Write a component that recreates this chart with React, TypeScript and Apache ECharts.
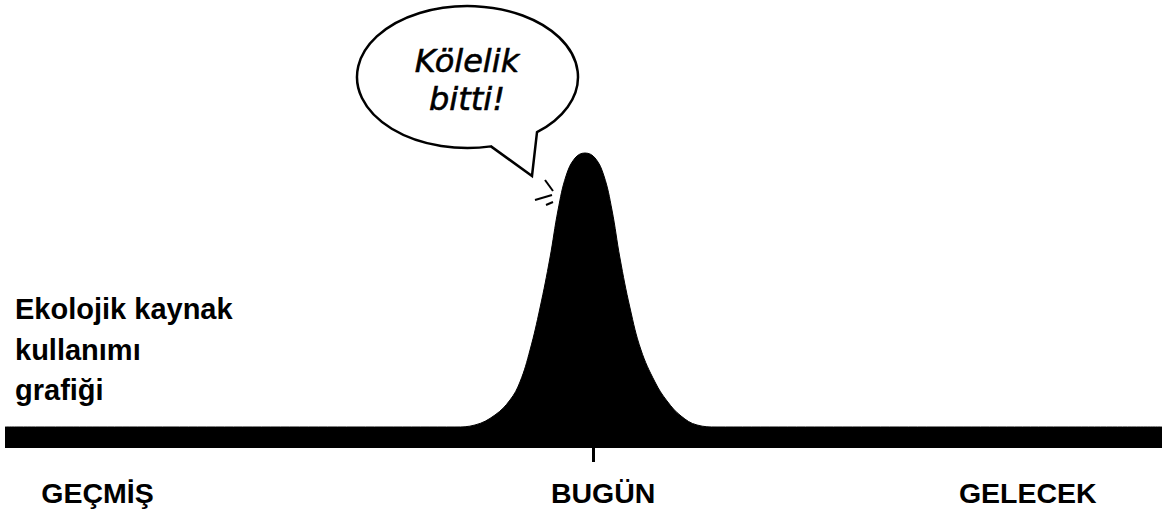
import React, { useEffect, useRef } from "react";
import * as echarts from "echarts";

// Bell curve of ecological resource use (x: time index 0..100, y: usage level)
const curveX = [0, 38.89, 40.62, 42.35, 43.65, 44.51, 45.38, 46.24, 47.1, 47.8, 48.49, 49.27, 50.13, 51.0, 51.77, 52.46, 53.15, 54.02, 54.97, 56.18, 57.22, 58.43, 59.81, 61.54, 100];
const curveY = [21, 21, 23, 33, 48, 66, 98, 140, 190, 238, 272, 290, 295, 290, 272, 238, 190, 140, 98, 66, 47, 32, 23, 21, 21];

const periodLabels = ["GEÇMİŞ", "BUGÜN", "GELECEK"];
const periodPositions = [8, 51.7, 88.4];
const todayTick = [50.82];

const titleText = "Ekolojik kaynak\nkullanımı\ngrafiği";
const bubbleText = "Kölelik\nbitti!";

const BUBBLE_PATH = "M 491 146.38 A 110.5 71 0 1 1 537 132.2 L 532 176 Z";

export default function App() {
  const ref = useRef<HTMLDivElement>(null);
  useEffect(() => {
    if (!ref.current) return;
    echarts.graphic.registerShape("bubble", echarts.graphic.extendPath(BUBBLE_PATH, {}));
    const chart = echarts.init(ref.current, null, { renderer: "svg" });
    const data = curveX.map((x, i) => [x, curveY[i]]);
    chart.setOption({
      animation: false,
      backgroundColor: "#ffffff",
      title: {
        text: titleText,
        left: 10,
        top: 284,
        textStyle: {
          fontFamily: "'Liberation Sans', Arial, sans-serif",
          fontSize: 29,
          fontWeight: "bold",
          color: "#000",
          lineHeight: 40.5,
        },
      },
      grid: { left: 5, right: 0, bottom: 70, height: 300 },
      xAxis: {
        type: "value",
        min: 0,
        max: 100,
        axisLine: { show: false },
        splitLine: { show: false },
        axisTick: {
          show: true,
          customValues: todayTick,
          length: 14,
          lineStyle: { color: "#000", width: 3 },
        },
        axisLabel: {
          show: true,
          customValues: periodPositions,
          margin: 30,
          fontFamily: "'Liberation Sans', Arial, sans-serif",
          fontSize: 28.5,
          fontWeight: "bold",
          color: "#000",
          formatter: (v: number) => {
            let best = 0;
            periodPositions.forEach((p, i) => {
              if (Math.abs(p - v) < Math.abs(periodPositions[best] - v)) best = i;
            });
            return periodLabels[best];
          },
        },
      },
      yAxis: { type: "value", min: 0, max: 300, show: false },
      series: [
        {
          type: "line",
          data,
          smooth: 0.4,
          symbol: "none",
          lineStyle: { color: "#000", width: 1 },
          areaStyle: { color: "#000", opacity: 1 },
        },
      ],
      graphic: [
        {
          type: "bubble",
          x: 0,
          y: 0,
          style: { fill: "#fff", stroke: "#000", lineWidth: 2.5, lineJoin: "miter" },
        },
        {
          type: "text",
          x: 467,
          y: 42,
          style: {
            text: bubbleText,
            align: "center",
            verticalAlign: "top",
            fontFamily: "'DejaVu Sans', sans-serif",
            fontStyle: "italic",
            fontSize: 32,
            lineHeight: 38,
            fill: "#000",
            stroke: "#000",
            lineWidth: 0.6,
          },
        },
        { type: "line", shape: { x1: 545, y1: 180, x2: 553, y2: 191 }, style: { stroke: "#000", lineWidth: 2 } },
        { type: "line", shape: { x1: 535, y1: 200, x2: 552, y2: 195 }, style: { stroke: "#000", lineWidth: 2 } },
        { type: "line", shape: { x1: 546, y1: 205, x2: 553, y2: 202 }, style: { stroke: "#000", lineWidth: 2 } },
      ],
    });
    return () => chart.dispose();
  }, []);
  return (
    <div
      ref={ref}
      style={{ position: "fixed", left: 0, top: 0, width: 1162, height: 518 }}
    />
  );
}
